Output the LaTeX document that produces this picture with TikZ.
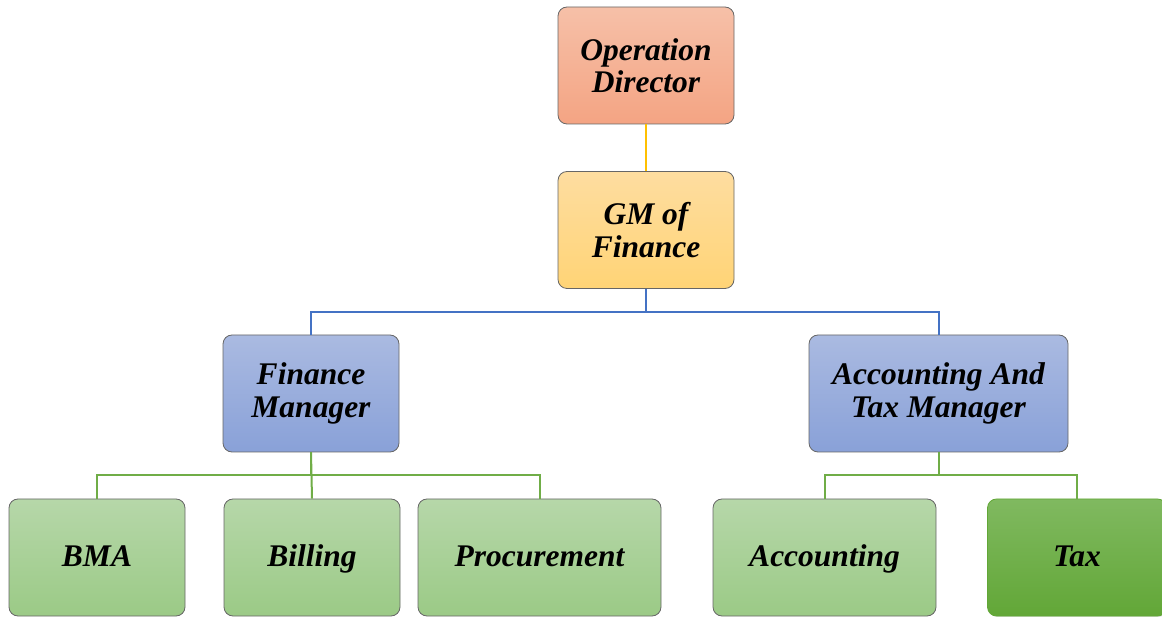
\documentclass[tikz,border=0pt]{standalone}
\usepackage{fontspec}
\setmainfont{Liberation Serif}
\usetikzlibrary{shadows}
\definecolor{odtop}{HTML}{F6C0A8}
\definecolor{odbot}{HTML}{F4A483}
\definecolor{gmtop}{HTML}{FEDDA0}
\definecolor{gmbot}{HTML}{FFD476}
\definecolor{mgtop}{HTML}{AABAE1}
\definecolor{mgbot}{HTML}{89A1D8}
\definecolor{sectop}{HTML}{B6D7A9}
\definecolor{secbot}{HTML}{9BCA86}
\definecolor{taxtop}{HTML}{80B960}
\definecolor{taxbot}{HTML}{62A737}
\definecolor{yline}{HTML}{FFC000}
\definecolor{bline}{HTML}{4472C4}
\definecolor{gline}{HTML}{70AD47}
\begin{document}
\begin{tikzpicture}[x=1pt,y=1pt,
    box/.style={draw=black!60, line width=0.8pt, rounded corners=9pt, align=center,
      font=\fontsize{31.5}{32.5}\selectfont\bfseries\itshape, minimum height=117pt, inner sep=0pt},
    odbox/.style={box, top color=odtop, bottom color=odbot, minimum width=176pt},
    gmbox/.style={box, top color=gmtop, bottom color=gmbot, minimum width=176pt},
    mgbox/.style={box, top color=mgtop, bottom color=mgbot},
    secbox/.style={box, top color=sectop, bottom color=secbot, text height=25pt, text depth=6pt},
    taxbox/.style={secbox, draw=taxbot, top color=taxtop, bottom color=taxbot,
      drop shadow={opacity=0.25, shadow xshift=1pt, shadow yshift=-1pt}},
    link/.style={line width=2pt}]
    \useasboundingbox (0,0) rectangle (1162,616);
    \node[odbox] (od) at (646,550.5) {Operation\\Director};
    \node[gmbox] (gm) at (646,386) {GM of\\Finance};
    \node[mgbox, minimum width=176pt] (fm) at (311,222.5) {Finance\\Manager};
    \node[mgbox, minimum width=259pt] (atm) at (938.5,222.5) {Accounting And\\Tax Manager};
    \node[secbox, minimum width=176pt] (bma) at (97,58.5) {BMA};
    \node[secbox, minimum width=176pt] (bill) at (312,58.5) {Billing};
    \node[secbox, minimum width=243pt] (proc) at (539.5,58.5) {Procurement};
    \node[secbox, minimum width=223pt] (acc) at (824.5,58.5) {Accounting};
    \node[taxbox, minimum width=179pt] (tax) at (1077,58.5) {Tax};
    \draw[link, yline] (od) -- (gm);
    \draw[link, bline] (gm.south) -- ++(0,-23) -| (fm.north);
    \draw[link, bline] (gm.south) -- ++(0,-23) -| (atm.north);
    \draw[link, gline] (fm.south) -- ++(0,-23) -| (bma.north);
    \draw[link, gline] (fm.south) -- (bill.north);
    \draw[link, gline] (fm.south) -- ++(0,-23) -| (proc.north);
    \draw[link, gline] (atm.south) -- ++(0,-23) -| (acc.north);
    \draw[link, gline] (atm.south) -- ++(0,-23) -| (tax.north);
\end{tikzpicture}
\end{document}
